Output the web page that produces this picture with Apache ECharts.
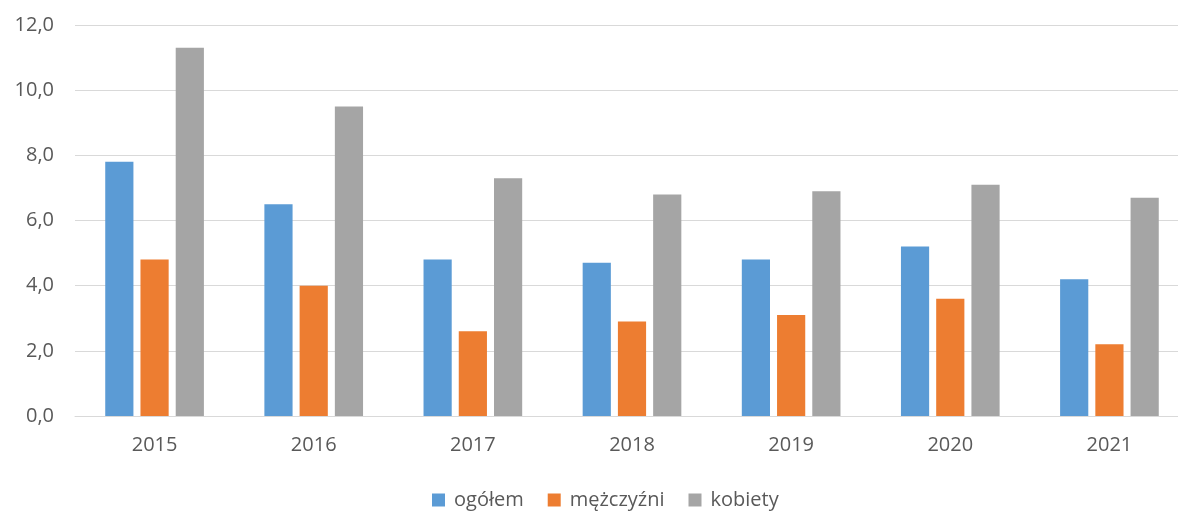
<!DOCTYPE html>
<html>
<head>
<meta charset="utf-8">
<script src="https://cdn.jsdelivr.net/npm/echarts@6/dist/echarts.min.js"></script>
<style>
  html, body { margin: 0; padding: 0; background: #fff; }
  #chart { width: 1178px; height: 511px; }
</style>
</head>
<body>
<div id="chart"></div>
<script>
// dane
const years = ['2015', '2016', '2017', '2018', '2019', '2020', '2021'];
const ogolem = [7.8, 6.5, 4.8, 4.7, 4.8, 5.2, 4.2];
const mezczyzni = [4.8, 4.0, 2.6, 2.9, 3.1, 3.6, 2.2];
const kobiety = [11.3, 9.5, 7.3, 6.8, 6.9, 7.1, 6.7];

const font = '"Open Sans", "Noto Sans", sans-serif';

var myChart = echarts.init(document.getElementById('chart'));

var option = {
  animation: false,
  textStyle: { fontFamily: font },
  legend: {
    data: ['ogółem', 'mężczyźni', 'kobiety'],
    left: 432,
    top: 490,
    padding: 0,
    itemWidth: 13,
    itemHeight: 13,
    itemGap: 24,
    icon: 'rect',
    textStyle: { fontSize: 20, color: '#595959', fontFamily: font, padding: [0, 0, 0, 4] }
  },
  grid: {
    left: 75,
    width: 1114,
    top: 25,
    bottom: 95,
    outerBoundsMode: 'none'
  },
  xAxis: {
    type: 'category',
    data: years,
    axisLine: { show: true, lineStyle: { color: '#D9D9D9', width: 1 } },
    axisTick: { show: false },
    axisLabel: { color: '#595959', fontSize: 20, margin: 19 }
  },
  yAxis: {
    type: 'value',
    min: 0,
    max: 12,
    interval: 2,
    axisLine: { show: false },
    axisTick: { show: false },
    splitLine: { lineStyle: { color: '#D9D9D9', width: 1 } },
    axisLabel: {
      color: '#595959',
      fontSize: 20,
      margin: 21,
      formatter: function (v) { return v.toFixed(1).replace('.', ','); }
    }
  },
  series: [
    {
      name: 'ogółem',
      type: 'bar',
      data: ogolem,
      barGap: '25%',
      barCategoryGap: '38%',
      itemStyle: { color: '#5B9BD5' }
    },
    {
      name: 'mężczyźni',
      type: 'bar',
      data: mezczyzni,
      itemStyle: { color: '#ED7D31' }
    },
    {
      name: 'kobiety',
      type: 'bar',
      data: kobiety,
      itemStyle: { color: '#A5A5A5' }
    }
  ]
};

myChart.setOption(option);
</script>
</body>
</html>
